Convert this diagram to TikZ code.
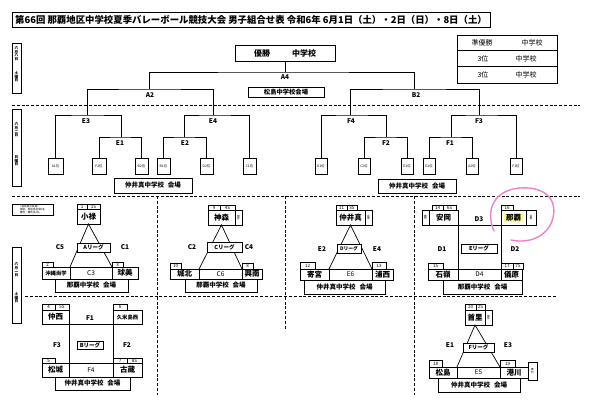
\documentclass[tikz,border=0pt]{standalone}
\usepackage{fontspec}
\setmainfont{Noto Sans CJK JP}
\newcommand{\FS}[1]{\fontsize{#1}{#1}\selectfont}
\definecolor{pinkpen}{RGB}{238,130,200}
\definecolor{hilite}{RGB}{252,248,140}
\newcommand{\Cell}[7][]{%
  \pgfmathsetmacro{\CellW}{#4-#2}%
  \pgfmathsetmacro{\CellH}{#5-#3}%
  \node[cell,minimum width=\CellW pt,minimum height=\CellH pt,#1] (#6) at ({(#2+#4)/2},{(#3+#5)/2}) {#7};%
}
\begin{document}
\begin{tikzpicture}[x=1pt,y=-1pt,
  cell/.style={draw,line width=0.7pt,inner sep=0pt,outer sep=0pt,fill=white,align=center},
  ln/.style={line width=0.7pt},
  dsh/.style={line width=0.75pt,dash pattern=on 3pt off 1.8pt},
  lab/.style={inner sep=0pt,font=\FS{6.5}\bfseries},
  nm/.style={font=\FS{7.5}\bfseries},
  nms/.style={font=\FS{5.3}\bfseries},
  num/.style={font=\FS{4.5}},
  side/.style={font=\FS{2.6}},
  lg/.style={font=\FS{5.5}\bfseries},
  ven/.style={font=\FS{6.5}\bfseries},
  mid/.style={font=\FS{6.5}},
  leaf/.style={line width=0.5pt,font=\FS{3.4}},
  vt/.style={inner sep=0pt,align=center,font=\FS{3.6}\bfseries}
 ]
\fill[white] (0,0) rectangle (594,420);
\useasboundingbox (0,0) rectangle (594,420);

% ---------- title and table ----------
\Cell[font=\FS{9.4}\bfseries]{12}{12}{490}{27}{title}{第66回 那覇地区中学校夏季バレーボール競技大会 男子組合せ表 令和6年 6月1日（土）・2日（日）・8日（土）}
\Cell{457}{35}{557}{50.7}{tr1}{}
\Cell{457}{50.7}{557}{66.3}{tr2}{}
\Cell{457}{66.3}{557}{83}{tr3}{}
\node[lab,font=\FS{7}] (tr1a) at (482,43) {準優勝};
\node[lab,font=\FS{7}] (tr1b) at (532,43) {中学校};
\node[lab,font=\FS{7}] (tr2a) at (483,58.5) {3位};
\node[lab,font=\FS{7}] (tr2b) at (526,58.5) {中学校};
\node[lab,font=\FS{7}] (tr3a) at (483,74.5) {3位};
\node[lab,font=\FS{7}] (tr3b) at (526,74.5) {中学校};

% ---------- side date boxes ----------
\Cell{12}{43}{21}{93}{sd1}{}
\node[vt] (sd1a) at (16.5,53.5) {六\\月\\八\\日};
\node[vt] (sd1b) at (16.5,77) {土\\曜\\日};
\Cell{12}{109}{21}{186}{sd2}{}
\node[vt] (sd2a) at (16.5,130) {六\\月\\二\\日};
\node[vt] (sd2b) at (16.5,161) {日\\曜\\日};
\Cell{12}{247}{21}{323}{sd3}{}
\node[vt] (sd3a) at (16.5,270) {六\\月\\一\\日};
\node[vt] (sd3b) at (16.5,298) {土\\曜\\日};

% ---------- dashed separators ----------
\draw[dsh] (12,105) -- (580,105);
\draw[dsh] (12,196) -- (580,196);
\draw[dsh] (25,296) -- (557,296);
\draw[dsh] (157,196) -- (157,395);
\draw[dsh] (285,196) -- (285,330);
\draw[dsh] (414,196) -- (414,395);

% ---------- final ----------
\Cell[font=\FS{8}\bfseries]{235}{45}{335}{61}{champ}{優勝\hspace{22pt}中学校}
\coordinate (A4) at (285,72);
\coordinate (A2) at (149,89);
\coordinate (B2) at (414,89);
\coordinate (E3) at (87,115);
\coordinate (E4) at (213,115);
\coordinate (E1) at (121,137);
\coordinate (E2) at (184,137);
\coordinate (F4) at (350,115);
\coordinate (F3) at (479,115);
\coordinate (F2) at (386,137);
\coordinate (F1) at (451,137);
\draw[ln] (champ.south) -- (A4);
\draw[ln] (A2) |- (A4) -| (B2);
\Cell[font=\FS{6.3}\bfseries]{248}{87}{324}{97}{v0}{松島中学校会場}
\node[lab] (lA4) at (285,77.5) {A4};
\node[lab] (lA2) at (150,95) {A2};
\node[lab] (lB2) at (416,95) {B2};

% leaves
\Cell[leaf]{48}{158}{63}{174}{lfA1}{A1位}
\Cell[leaf]{92}{158}{106}{174}{lfF2}{F2位}
\Cell[leaf]{135}{158}{148}{174}{lfB2}{B2位}
\Cell[leaf]{157}{158}{170}{174}{lfB1}{B1位}
\Cell[leaf]{200}{158}{213}{174}{lfD2}{D2位}
\Cell[leaf]{243}{158}{256}{174}{lfC1}{C1位}
\Cell[leaf]{315}{158}{327}{174}{lfD1}{D1位}
\Cell[leaf]{358}{158}{370}{174}{lfC2}{C2位}
\Cell[leaf]{401}{158}{413}{174}{lfE1}{E1位}
\Cell[leaf]{423}{158}{435}{174}{lfE2}{E2位}
\Cell[leaf]{466}{158}{478}{174}{lfA2}{A2位}
\Cell[leaf]{510}{158}{522}{174}{lfF1}{F1位}

\draw[ln] (E3) |- (A2) -| (E4);
\draw[ln] (lfA1.north) |- (E3) -| (E1);
\draw[ln] (lfF2.north) |- (E1) -| (lfB2.north);
\draw[ln] (E2) |- (E4) -| (lfC1.north);
\draw[ln] (lfB1.north) |- (E2) -| (lfD2.north);
\draw[ln] (F4) |- (B2) -| (F3);
\draw[ln] (lfD1.north) |- (F4) -| (F2);
\draw[ln] (lfC2.north) |- (F2) -| (lfE1.north);
\draw[ln] (F1) |- (F3) -| (lfF1.north);
\draw[ln] (lfE2.north) |- (F1) -| (lfA2.north);

\node[lab] (lE3) at (86,121) {E3};
\node[lab] (lE1) at (120,143) {E1};
\node[lab] (lE4) at (213,121) {E4};
\node[lab] (lE2) at (185,143) {E2};
\node[lab] (lF4) at (351,121) {F4};
\node[lab] (lF2) at (386,143) {F2};
\node[lab] (lF3) at (479,121) {F3};
\node[lab] (lF1) at (450,143) {F1};

\Cell[ven]{114}{178}{192}{193}{v1}{仲井真中学校\hspace{4pt}会場}
\Cell[ven]{378}{179}{456}{193}{v2}{仲井真中学校\hspace{4pt}会場}

% ---------- note box ----------
\Cell[font=\FS{2.6},align=left]{12}{204}{53}{215}{note}{<各会場の役員>\\開会、閉会各会場1名\\審判：審判長1名}

% ---------- A league ----------
\Cell[num]{77}{204}{87}{209}{nA1}{1}
\Cell[num]{87}{204}{100}{209}{sA1}{1S}
\Cell[nm]{77}{209}{100}{224}{tA1}{小禄}
\Cell[num]{42}{262}{53}{267}{nA2}{2}
\Cell[nms]{42}{267}{70}{279}{tA2}{沖縄尚学}
\Cell[mid]{70}{267}{112}{279}{mA}{C3}
\Cell[num]{112}{262}{123}{267}{nA3}{3}
\Cell[nm]{112}{267}{138}{279}{tA3}{球美}
\Cell[ven]{55}{279}{128}{292}{vA}{那覇中学校\hspace{4pt}会場}
\draw[ln] (tA2.north east) -- (tA1.south) -- (tA3.north west);
\Cell[lg]{77}{243}{110}{252}{lgA}{Aリーグ}
\node[lab] (lC5) at (60,247.5) {C5};
\node[lab] (lC1) at (125,247.5) {C1};

% ---------- C league ----------
\Cell[num]{208}{205}{220}{210}{nC1}{9}
\Cell[num]{220}{205}{235}{210}{sC1}{4S}
\Cell[nm]{208}{210}{235}{225}{tC1}{神森}
\Cell[side]{235}{210}{242}{225}{xC1}{閉\\会}
\Cell[num]{170}{263}{181}{269}{nC2}{10}
\Cell[nm]{170}{269}{199}{279}{tC2}{城北}
\Cell[mid]{199}{269}{242}{279}{mC}{C6}
\Cell[num]{242}{263}{253}{269}{nC3}{8}
\Cell[nm]{242}{269}{262}{279}{tC3}{興南}
\Cell[ven]{185}{279}{257}{292}{vC}{那覇中学校\hspace{4pt}会場}
\draw[ln] (tC2.north east) -- (tC1.south) -- (tC3.north west);
\Cell[lg]{207}{242}{242}{252}{lgC}{Cリーグ}
\node[lab] (lC2) at (192,247.5) {C2};
\node[lab] (lC4) at (249,247.5) {C4};

% ---------- D league ----------
\Cell[num]{336}{205}{347}{210}{nD1}{11}
\Cell[num]{347}{205}{357}{210}{sD1}{3S}
\Cell[nm]{336}{210}{365}{225}{tD1}{仲井真}
\Cell[side]{365}{210}{372}{225}{xD1}{会\\場}
\Cell[num]{300}{262}{315}{269}{nD2}{12}
\Cell[nm]{300}{269}{329}{280}{tD2}{寄宮}
\Cell[mid]{329}{269}{372}{280}{mD}{E6}
\Cell[num]{372}{262}{386}{269}{nD3}{13}
\Cell[nm]{372}{269}{393}{280}{tD3}{浦西}
\Cell[ven]{304}{280}{385}{294}{vD}{仲井真中学校\hspace{4pt}会場}
\draw[ln] (tD2.north east) -- (tD1.south) -- (tD3.north west);
\Cell[lg,font=\FS{4.8}\bfseries]{337}{244}{361}{253}{lgD}{Dリーグ}
\node[lab] (lE2b) at (322,249) {E2};
\node[lab] (lE4b) at (377,249) {E4};

% ---------- E league ----------
\Cell[num]{432}{205}{443}{210}{nE1}{14}
\Cell[num]{443}{205}{456}{210}{sE1}{6S}
\Cell[side]{422}{210}{429}{225}{xE1}{審\\判}
\Cell[nm]{429}{210}{458}{225}{tE1}{安岡}
\Cell[num]{501}{205}{513}{210}{nE2}{16}
\Cell[nm]{501}{210}{526}{225}{tE2}{}
\fill[hilite] (504,213.5) rectangle (523,222);
\node[nm,inner sep=0pt] (tE2t) at (513.5,217.5) {那覇};
\Cell[side]{526}{210}{536}{225}{xE2}{会\\場}
\Cell[num]{428}{263}{443}{269}{nE3}{15}
\Cell[nm]{428}{269}{458}{280}{tE3}{石嶺}
\Cell[mid]{458}{269}{501}{280}{mE}{D4}
\Cell[num]{501}{263}{513}{269}{nE4}{17}
\Cell[num]{513}{263}{523}{269}{sE4}{7S}
\Cell[nm]{501}{269}{522}{280}{tE4}{儀原}
\Cell[ven]{443}{280}{522}{294}{vE}{那覇中学校\hspace{4pt}会場}
\draw[ln] (tE3.north east) -- (tE1.south east) -- (tE2.south west) -- (tE4.north west);
\node[lab] (lD3) at (479,219) {D3};
\Cell[lg]{461}{244}{497}{253}{lgE}{Eリーグ}
\node[lab] (lD1) at (442,249) {D1};
\node[lab] (lD2) at (515,249) {D2};

% ---------- B league ----------
\Cell[num]{42}{304}{55}{310}{nB1}{4}
\Cell[num]{55}{304}{69}{310}{sB1}{5S}
\Cell[nm]{42}{310}{69}{324}{tB1}{仲西}
\Cell[num]{113}{304}{127}{310}{nB2}{6}
\Cell[nms]{113}{310}{142}{324}{tB2}{久米島西}
\Cell[num]{42}{358}{55}{363}{nB3}{5}
\Cell[nm]{42}{363}{69}{377}{tB3}{松城}
\Cell[mid]{69}{363}{113}{377}{mB}{F4}
\Cell[num]{113}{358}{127}{363}{nB4}{7}
\Cell[num]{127}{358}{142}{363}{sB4}{8S}
\Cell[nm]{113}{363}{142}{377}{tB4}{古蔵}
\Cell[ven]{55}{377}{130}{390}{vB}{仲井真中学校\hspace{4pt}会場}
\draw[ln] (tB3.north east) -- (tB1.south east) -- (tB2.south west) -- (tB4.north west);
\node[lab] (lF1b) at (90,318) {F1};
\Cell[lg]{77}{341}{103}{349}{lgB}{Bリーグ}
\node[lab] (lF3b) at (57,345) {F3};
\node[lab] (lF2b) at (127,345) {F2};

% ---------- F league ----------
\Cell[num]{465}{304}{476}{310}{nF1}{20}
\Cell[num]{476}{304}{485}{310}{sF1}{2S}
\Cell[nm]{465}{310}{485}{325}{tF1}{首里}
\Cell[side]{485}{310}{492}{325}{xF1}{開\\会}
\Cell[num]{429}{360}{442}{367}{nF2}{18}
\Cell[nm]{429}{367}{457}{378}{tF2}{松島}
\Cell[mid]{457}{367}{500}{378}{mF}{E5}
\Cell[num]{500}{360}{515}{367}{nF3}{19}
\Cell[nm]{500}{367}{528}{378}{tF3}{港川}
\Cell[side]{528}{362}{537}{380}{xF3}{審\\判}
\Cell[ven]{438}{378}{520}{392}{vF}{仲井真中学校\hspace{4pt}会場}
\draw[ln] (tF2.north east) -- (tF1.south) -- (tF3.north west);
\Cell[lg]{463}{343}{494}{352}{lgF}{Fリーグ}
\node[lab] (lE1b) at (450,345) {E1};
\node[lab] (lE3b) at (508,345) {E3};

% ---------- pink hand-drawn loop ----------
\draw[pinkpen,line width=1.4pt,line cap=round]
  (494,231) .. controls (485,210) and (494,190) .. (520,188)
  .. controls (546,186) and (559,201) .. (552,221)
  .. controls (547,236) and (530,244) .. (511,240);
\end{tikzpicture}
\end{document}
